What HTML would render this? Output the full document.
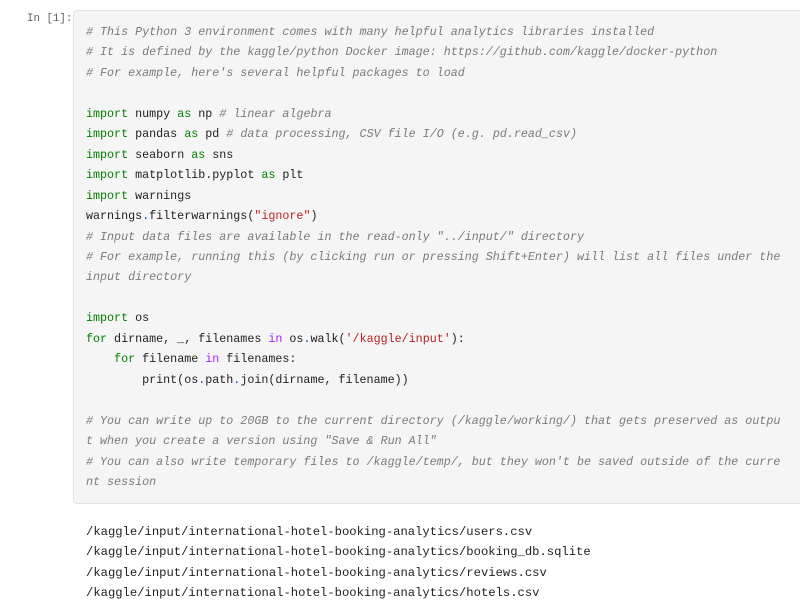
<!DOCTYPE html>
<html><head><meta charset="utf-8"><style>
body{margin:0;width:800px;height:605px;background:#fff;overflow:hidden;position:relative;font-family:"Liberation Mono",monospace;}
.prompt{position:absolute;left:27px;top:13px;font-size:10.8px;color:#616161;}
.box{position:absolute;left:73px;top:10px;width:730px;height:492px;background:#f5f5f5;border:1px solid #e0e0e0;border-radius:4px;}
pre{margin:0;position:absolute;left:86px;top:22px;font-family:"Liberation Mono",monospace;font-size:11.7px;line-height:20.45px;color:#212121;white-space:pre;}
.c{color:#7a7a7a;font-style:italic}
.k{color:#008000}
.p{color:#aa22ff}
.s{color:#ba2121}
.o{color:#0055aa}
.out{position:absolute;left:86px;top:522px;font-family:"Liberation Mono",monospace;font-size:12.2px;line-height:20.4px;color:#212121;white-space:pre;}
</style></head><body>
<div class="prompt">In [1]:</div>
<div class="box"></div>
<pre><span class="c"># This Python 3 environment comes with many helpful analytics libraries installed
# It is defined by the kaggle/python Docker image: https://github.com/kaggle/docker-python
# For example, here's several helpful packages to load</span>

<span class="k">import</span> numpy <span class="k">as</span> np <span class="c"># linear algebra</span>
<span class="k">import</span> pandas <span class="k">as</span> pd <span class="c"># data processing, CSV file I/O (e.g. pd.read_csv)</span>
<span class="k">import</span> seaborn <span class="k">as</span> sns
<span class="k">import</span> matplotlib.pyplot <span class="k">as</span> plt
<span class="k">import</span> warnings
warnings<span class="o">.</span>filterwarnings(<span class="s">"ignore"</span>)
<span class="c"># Input data files are available in the read-only "../input/" directory
# For example, running this (by clicking run or pressing Shift+Enter) will list all files under the
input directory</span>

<span class="k">import</span> os
<span class="k">for</span> dirname, _, filenames <span class="p">in</span> os<span class="o">.</span>walk(<span class="s">'/kaggle/input'</span>):
    <span class="k">for</span> filename <span class="p">in</span> filenames:
        print(os<span class="o">.</span>path<span class="o">.</span>join(dirname, filename))

<span class="c"># You can write up to 20GB to the current directory (/kaggle/working/) that gets preserved as outpu
t when you create a version using "Save &amp; Run All"
# You can also write temporary files to /kaggle/temp/, but they won't be saved outside of the curre
nt session</span></pre>
<div class="out">/kaggle/input/international-hotel-booking-analytics/users.csv
/kaggle/input/international-hotel-booking-analytics/booking_db.sqlite
/kaggle/input/international-hotel-booking-analytics/reviews.csv
/kaggle/input/international-hotel-booking-analytics/hotels.csv</div>
</body></html>
